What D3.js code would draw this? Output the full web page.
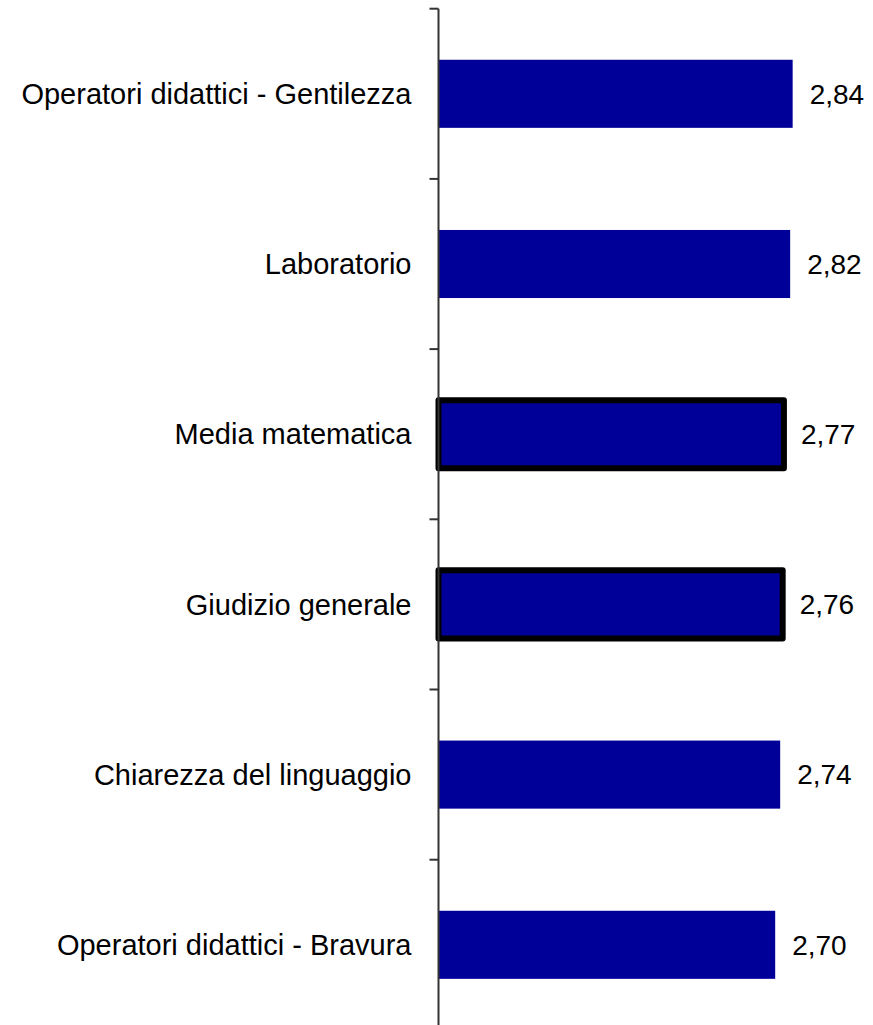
<!DOCTYPE html>
<html>
<head>
<meta charset="utf-8">
<script src="https://cdn.jsdelivr.net/npm/d3@7"></script>
<style>
    body { margin: 0; background: #fff; }
    text { font-family: "Liberation Sans", Arial, sans-serif; }
</style>
</head>
<body>
<div id="container"></div>
<script>
// chart data
const categories = [
    "Operatori didattici - Gentilezza",
    "Laboratorio",
    "Media matematica",
    "Giudizio generale",
    "Chiarezza del linguaggio",
    "Operatori didattici - Bravura"
];
const values = [2.84, 2.82, 2.77, 2.76, 2.74, 2.70];
const highlighted = ["Media matematica", "Giudizio generale"];

const width = 873;
const height = 1025;
const axisX = 438.5;
const marginTop = 8.7;
const bandStep = 170.2;

const data = categories.map((c, i) => ({ name: c, value: values[i] }));

const y = d3.scaleBand()
    .domain(categories)
    .range([marginTop, marginTop + bandStep * categories.length])
    .paddingInner(0.6)
    .paddingOuter(0.3);

// about 124.7 px per unit, starting from zero
const x = d3.scaleLinear()
    .domain([0, 3.5])
    .range([axisX, axisX + 124.7 * 3.5]);

const svg = d3.select("#container").append("svg")
    .attr("width", width)
    .attr("height", height);

// bars
svg.selectAll(".bar")
    .data(data)
    .enter()
    .append("rect")
        .attr("class", "bar")
        .attr("x", x(0))
        .attr("y", d => y(d.name))
        .attr("width", d => x(d.value) - x(0))
        .attr("height", y.bandwidth())
        .attr("fill", "#000099")
        .attr("stroke", d => highlighted.includes(d.name) ? "#000" : "none")
        .attr("stroke-width", 6)
        .attr("stroke-linejoin", "round");

// value labels
svg.selectAll(".value")
    .data(data)
    .enter()
    .append("text")
        .attr("class", "value")
        .attr("x", d => x(d.value) + 17)
        .attr("y", d => y(d.name) + y.bandwidth() / 2)
        .attr("dy", "0.35em")
        .style("font-size", "28px")
        .attr("fill", "#000")
        .text(d => d.value.toFixed(2).replace(".", ","));

// category labels
svg.selectAll(".cat")
    .data(data)
    .enter()
    .append("text")
        .attr("class", "cat")
        .attr("x", axisX - 27)
        .attr("y", d => y(d.name) + y.bandwidth() / 2)
        .attr("dy", "0.35em")
        .attr("text-anchor", "end")
        .style("font-size", "29px")
        .attr("fill", "#000")
        .text(d => d.name);

// axis line and ticks between categories
const axis = svg.append("g").attr("stroke", "#333").attr("stroke-width", 2);
axis.append("line")
    .attr("x1", axisX).attr("x2", axisX)
    .attr("y1", marginTop).attr("y2", height);
const tickYs = d3.range(categories.length + 1).map(i => marginTop + i * y.step());
axis.selectAll(".tick")
    .data(tickYs)
    .enter()
    .append("line")
        .attr("x1", axisX - 9).attr("x2", axisX)
        .attr("y1", d => d).attr("y2", d => d);
</script>
</body>
</html>
